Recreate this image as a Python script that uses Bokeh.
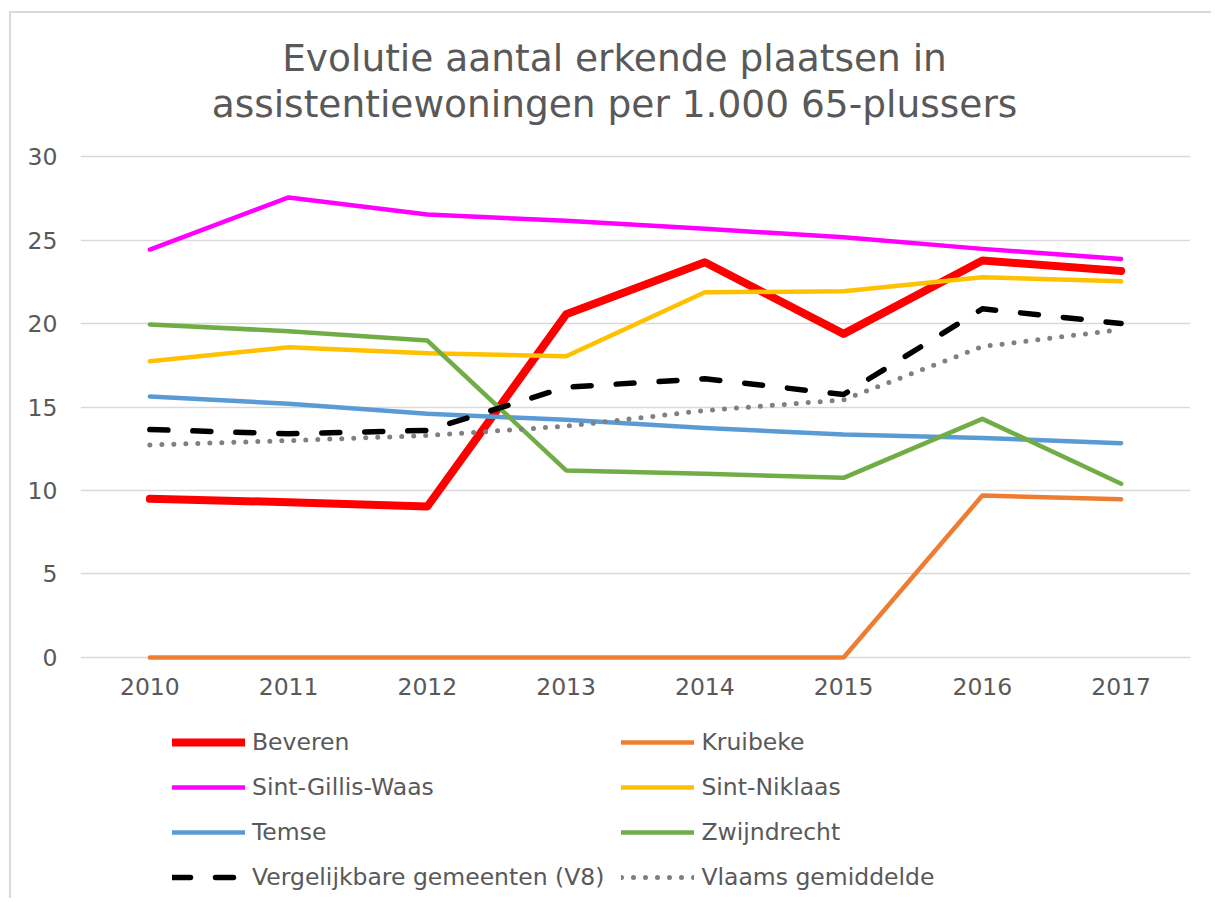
from bokeh.plotting import figure
from bokeh.models import Range1d, FactorRange, Legend, LegendItem, Label
from bokeh.layouts import column
from bokeh.embed import file_html
from bokeh.resources import INLINE

years = ["2010", "2011", "2012", "2013", "2014", "2015", "2016", "2017"]
beveren = [9.5, 9.3, 9.04, 20.55, 23.67, 19.38, 23.77, 23.15]
kruibeke = [0, 0, 0, 0, 0, 0, 9.7, 9.48]
sint_gillis_waas = [24.43, 27.55, 26.53, 26.15, 25.67, 25.17, 24.47, 23.87]
sint_niklaas = [17.74, 18.58, 18.22, 18.04, 21.87, 21.93, 22.77, 22.53]
temse = [15.63, 15.19, 14.59, 14.23, 13.75, 13.35, 13.15, 12.83]
zwijndrecht = [19.94, 19.54, 18.98, 11.2, 11.0, 10.76, 14.29, 10.4]
v8 = [13.65, 13.4, 13.6, 16.19, 16.69, 15.75, 20.88, 20.0]
vlaams = [12.73, 12.99, 13.29, 13.85, 14.79, 15.43, 18.62, 19.64]

title_lines = ["Evolutie aantal erkende plaatsen in",
               "assistentiewoningen per 1.000 65-plussers"]
y_ticks = [0, 5, 10, 15, 20, 25, 30]

FONT = "DejaVu Sans"
TXT = "#595959"
LBL = "23.5px"
W = 1200
FL, FR = 69, 21  # frame borders shared by the stacked figures

series = [
    ("Beveren", beveren, "#FF0000", 8, None),
    ("Kruibeke", kruibeke, "#ED7D31", 4.5, None),
    ("Sint-Gillis-Waas", sint_gillis_waas, "#FF00FF", 4.5, None),
    ("Sint-Niklaas", sint_niklaas, "#FFC000", 4.5, None),
    ("Temse", temse, "#5B9BD5", 4.5, None),
    ("Zwijndrecht", zwijndrecht, "#70AD47", 4.5, None),
    ("Vergelijkbare gemeenten (V8)", v8, "#000000", 5.5, "18 25"),
    ("Vlaams gemiddelde", vlaams, "#808080", 5, "0 12"),
]


def blank(height, x_range, y_range):
    f = figure(width=W, height=height, x_range=x_range, y_range=y_range,
               x_axis_type=None, y_axis_type=None, output_backend="svg",
               toolbar_location=None, min_border=0)
    f.min_border_left = FL
    f.min_border_right = FR
    f.min_border_top = f.min_border_bottom = 0
    f.outline_line_color = None
    f.background_fill_color = "white"
    f.border_fill_color = "white"
    return f


# ---- title block ----
TH = 125
t = blank(TH, Range1d(FL, W - FR), Range1d(0, TH))
for txt, yc in [(title_lines[0], TH - 44), (title_lines[1], TH - 90)]:
    t.add_layout(Label(x=603, y=yc, text=txt, text_align="center",
                       text_baseline="middle", text_font=FONT,
                       text_font_size="37.5px", text_color=TXT))

# ---- chart ----
p = figure(width=W, height=575, x_range=FactorRange(*years),
           y_range=Range1d(-0.6, 31.08), output_backend="svg",
           toolbar_location=None, min_border_left=FL, min_border_right=FR,
           min_border_top=0, min_border_bottom=46)
p.outline_line_color = None
p.background_fill_color = "white"
p.border_fill_color = "white"
p.xgrid.grid_line_color = None
p.ygrid.grid_line_color = "#D9D9D9"
p.ygrid.grid_line_width = 1.5
p.yaxis.ticker = y_ticks
for ax in (p.xaxis[0], p.yaxis[0]):
    ax.axis_line_color = None
    ax.major_tick_line_color = None
    ax.minor_tick_line_color = None
    ax.major_tick_in = 0
    ax.major_tick_out = 0
    ax.minor_tick_in = 0
    ax.minor_tick_out = 0
    ax.major_label_text_font = FONT
    ax.major_label_text_font_size = LBL
    ax.major_label_text_color = TXT
p.yaxis.major_label_standoff = 23
p.xaxis.major_label_standoff = 10

# ---- legend block ----
LH = 185
lg = blank(LH, FactorRange(*years), Range1d(1000, 1000 + LH))

items = []
for name, vals, color, w, dash in series:
    kw = dict(line_color=color, line_width=w, line_cap="round", line_join="round")
    if dash:
        kw["line_dash"] = dash
    p.line(years, vals, **kw)
    r = lg.line(years, vals, **kw)
    items.append(LegendItem(label=name, renderers=[r]))

legend = Legend(items=items, orientation="horizontal", ncols=2,
                location=(92, 7), padding=0, margin=0,
                glyph_width=73, glyph_height=28, label_height=28,
                label_standoff=7, spacing=17,
                label_text_font=FONT, label_text_font_size=LBL,
                label_text_color=TXT, border_line_color=None,
                background_fill_alpha=0)
lg.add_layout(legend, "center")

layout = column(t, p, lg, spacing=0,
                styles={"margin-left": "9px", "margin-top": "11px",
                        "border-left": "2px solid #D9D9D9",
                        "border-top": "2px solid #D9D9D9"})

open("out.html", "w").write(file_html(layout, INLINE))
